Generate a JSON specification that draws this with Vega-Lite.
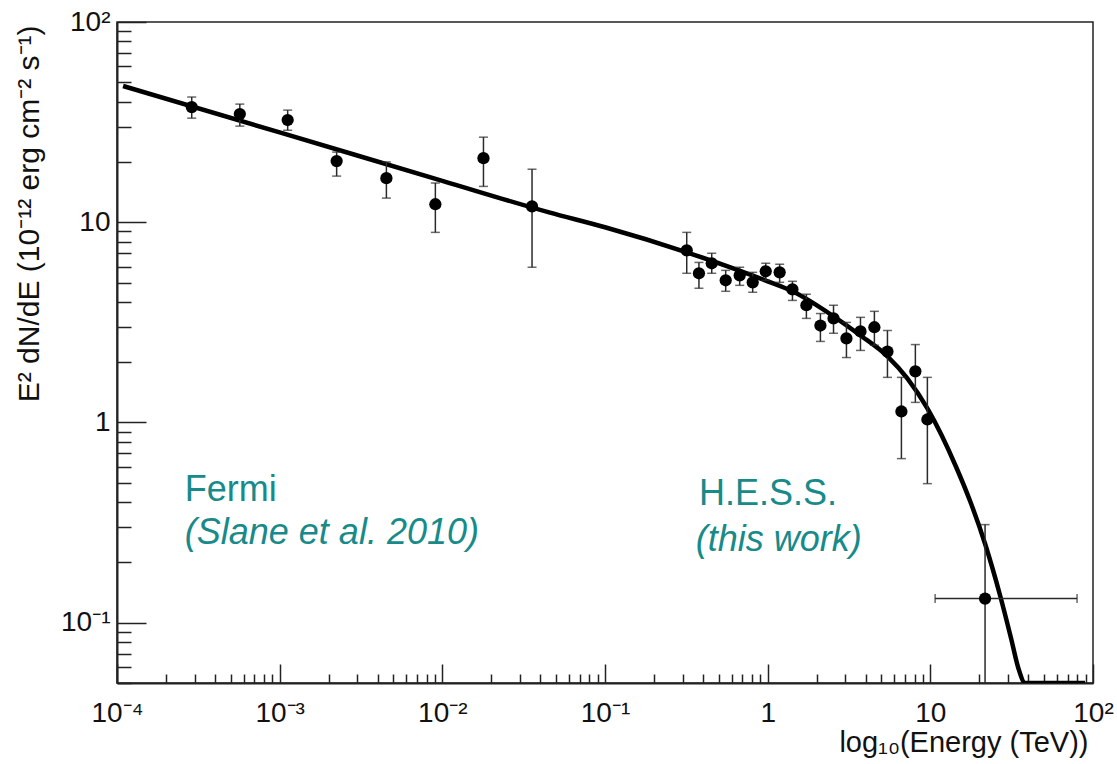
{
  "$schema": "https://vega.github.io/schema/vega-lite/v6.json",
  "width": 976,
  "height": 661,
  "autosize": {"type": "none"},
  "padding": {"left": 117, "top": 22, "right": 24, "bottom": 81},
  "background": "white",
  "config": {
    "view": {"stroke": "#222", "strokeWidth": 1.5},
    "font": "Liberation Sans",
    "axis": {"grid": false, "domainColor": "#222", "domainWidth": 2, "tickColor": "#222", "tickWidth": 1.5, "labelColor": "#111", "titleColor": "#111", "labelFont": "Liberation Sans", "titleFont": "Liberation Sans", "titleFontWeight": "normal", "labelFlush": false, "labelOverlap": false}
  },
  "datasets": {
    "curve": [
      {"E": 0.000109, "F": 47.9},
      {"E": 0.001, "F": 28.1},
      {"E": 0.01, "F": 16.1},
      {"E": 0.0453, "F": 11.2},
      {"E": 0.1, "F": 9.44},
      {"E": 0.318, "F": 7.08},
      {"E": 0.664, "F": 5.75},
      {"E": 1.0, "F": 5.07},
      {"E": 1.42, "F": 4.52},
      {"E": 2.54, "F": 3.39},
      {"E": 3.72, "F": 2.72},
      {"E": 5.45, "F": 2.14},
      {"E": 7.22, "F": 1.66},
      {"E": 9.59, "F": 1.175},
      {"E": 14.45, "F": 0.596},
      {"E": 17.6, "F": 0.403},
      {"E": 21.7, "F": 0.248},
      {"E": 26.9, "F": 0.136},
      {"E": 31.4, "F": 0.0832},
      {"E": 34.7, "F": 0.0596},
      {"E": 38.3, "F": 0.05},
      {"E": 89.3, "F": 0.05}
    ],
    "points": [
      {"E": 0.000288, "F": 37.6, "lo": 33.1, "hi": 42.2},
      {"E": 0.000569, "F": 34.7, "lo": 30.2, "hi": 38.9},
      {"E": 0.00112, "F": 32.4, "lo": 28.8, "hi": 36.3},
      {"E": 0.00224, "F": 20.2, "lo": 17.0, "hi": 22.4},
      {"E": 0.00453, "F": 16.6, "lo": 13.2, "hi": 20.0},
      {"E": 0.00906, "F": 12.3, "lo": 8.9, "hi": 15.7},
      {"E": 0.0179, "F": 20.9, "lo": 15.1, "hi": 26.6},
      {"E": 0.0356, "F": 12.0, "lo": 5.96, "hi": 18.4},
      {"E": 0.318, "F": 7.24, "lo": 5.56, "hi": 8.9},
      {"E": 0.378, "F": 5.56, "lo": 4.68, "hi": 6.3},
      {"E": 0.453, "F": 6.24, "lo": 5.56, "hi": 7.0},
      {"E": 0.552, "F": 5.13, "lo": 4.52, "hi": 5.75},
      {"E": 0.673, "F": 5.43, "lo": 4.84, "hi": 5.96},
      {"E": 0.809, "F": 5.01, "lo": 4.47, "hi": 5.62},
      {"E": 0.973, "F": 5.69, "lo": 5.13, "hi": 6.24},
      {"E": 1.185, "F": 5.62, "lo": 5.01, "hi": 6.17},
      {"E": 1.42, "F": 4.62, "lo": 4.07, "hi": 5.07},
      {"E": 1.73, "F": 3.85, "lo": 3.31, "hi": 4.37},
      {"E": 2.11, "F": 3.05, "lo": 2.54, "hi": 3.5},
      {"E": 2.54, "F": 3.31, "lo": 2.79, "hi": 3.85},
      {"E": 3.05, "F": 2.63, "lo": 2.11, "hi": 3.16},
      {"E": 3.72, "F": 2.85, "lo": 2.29, "hi": 3.35},
      {"E": 4.53, "F": 2.99, "lo": 2.43, "hi": 3.59},
      {"E": 5.45, "F": 2.26, "lo": 1.68, "hi": 2.88},
      {"E": 6.64, "F": 1.135, "lo": 0.66, "hi": 1.68},
      {"E": 8.09, "F": 1.8, "lo": 1.26, "hi": 2.45},
      {"E": 9.59, "F": 1.035, "lo": 0.495, "hi": 1.68},
      {"E": 21.7, "F": 0.132, "lo": 0.01, "hi": 0.309, "Elo": 10.7, "Ehi": 79.8}
    ],
    "labels": [
      {"E": 0.000261, "F": 0.407, "text": "Fermi", "role": "instrument"},
      {"E": 0.000261, "F": 0.248, "text": "(Slane et al. 2010)", "role": "reference"},
      {"E": 0.378, "F": 0.385, "text": "H.E.S.S.", "role": "instrument"},
      {"E": 0.361, "F": 0.229, "text": "(this work)", "role": "reference"}
    ]
  },
  "layer": [
    {
      "data": {"name": "curve"},
      "mark": {"type": "line", "color": "#000", "strokeWidth": 4.5, "clip": true, "interpolate": "monotone"},
      "encoding": {
        "x": {
          "field": "E", "type": "quantitative",
          "scale": {"type": "log", "domain": [0.0001, 100], "nice": false},
          "axis": {
            "values": [0.0001, 0.0002, 0.0003, 0.0004, 0.0005, 0.0006, 0.0007, 0.0008, 0.0009, 0.001, 0.002, 0.003, 0.004, 0.005, 0.006, 0.007, 0.008, 0.009, 0.01, 0.02, 0.03, 0.04, 0.05, 0.06, 0.07, 0.08, 0.09, 0.1, 0.2, 0.3, 0.4, 0.5, 0.6, 0.7, 0.8, 0.9, 1, 2, 3, 4, 5, 6, 7, 8, 9, 10, 20, 30, 40, 50, 60, 70, 80, 90, 100],
            "labelExpr": "datum.value == 0.0001 ? '10⁻⁴' : datum.value == 0.001 ? '10⁻³' : datum.value == 0.01 ? '10⁻²' : datum.value == 0.1 ? '10⁻¹' : datum.value == 1 ? '1' : datum.value == 10 ? '10' : datum.value == 100 ? '10²' : ''",
            "labelFontSize": 28,
            "labelPadding": 35,
            "tickSize": {"condition": {"test": "abs(log(datum.value)/LN10 - round(log(datum.value)/LN10)) < 0.001", "value": -19}, "value": -9},
            "title": "log₁₀(Energy (TeV))",
            "titleFontSize": 29,
            "titleAnchor": "end",
            "titleAlign": "right",
            "titleBaseline": "alphabetic",
            "titleX": 971,
            "titleY": 68
          }
        },
        "y": {
          "field": "F", "type": "quantitative",
          "scale": {"type": "log", "domain": [0.05, 100], "nice": false},
          "axis": {
            "values": [0.05, 0.06, 0.07, 0.08, 0.09, 0.1, 0.2, 0.3, 0.4, 0.5, 0.6, 0.7, 0.8, 0.9, 1, 2, 3, 4, 5, 6, 7, 8, 9, 10, 20, 30, 40, 50, 60, 70, 80, 90, 100],
            "labelExpr": "datum.value == 0.1 ? '10⁻¹' : datum.value == 1 ? '1' : datum.value == 10 ? '10' : datum.value == 100 ? '10²' : ''",
            "labelFontSize": 28,
            "labelPadding": 36,
            "tickSize": {"condition": {"test": "abs(log(datum.value)/LN10 - round(log(datum.value)/LN10)) < 0.001", "value": -29}, "value": -14},
            "title": "E² dN/dE (10⁻¹² erg cm⁻² s⁻¹)",
            "titleFontSize": 30,
            "titleAngle": -90,
            "titleAlign": "right",
            "titleBaseline": "alphabetic",
            "titleX": -79,
            "titleY": 3
          }
        }
      }
    },
    {
      "data": {"name": "points"},
      "mark": {"type": "rule", "color": "#2a2a2a", "strokeWidth": 1.5, "clip": true},
      "encoding": {
        "x": {"field": "E", "type": "quantitative"},
        "y": {"field": "lo", "type": "quantitative"},
        "y2": {"field": "hi"}
      }
    },
    {
      "data": {"name": "points"},
      "transform": [{"fold": ["lo", "hi"], "as": ["end", "val"]}, {"filter": "datum.val > 0.05"}],
      "mark": {"type": "tick", "orient": "horizontal", "color": "#2a2a2a", "size": 9, "thickness": 1.5},
      "encoding": {
        "x": {"field": "E", "type": "quantitative"},
        "y": {"field": "val", "type": "quantitative"}
      }
    },
    {
      "data": {"name": "points"},
      "transform": [{"filter": "datum.Elo != null"}],
      "mark": {"type": "rule", "color": "#2a2a2a", "strokeWidth": 1.5},
      "encoding": {
        "x": {"field": "Elo", "type": "quantitative"},
        "x2": {"field": "Ehi"},
        "y": {"field": "F", "type": "quantitative"}
      }
    },
    {
      "data": {"name": "points"},
      "transform": [{"filter": "datum.Elo != null"}, {"fold": ["Elo", "Ehi"], "as": ["end", "val"]}],
      "mark": {"type": "tick", "orient": "vertical", "color": "#2a2a2a", "size": 9, "thickness": 1.5},
      "encoding": {
        "x": {"field": "val", "type": "quantitative"},
        "y": {"field": "F", "type": "quantitative"}
      }
    },
    {
      "data": {"name": "points"},
      "mark": {"type": "circle", "color": "#000", "opacity": 1, "size": 150},
      "encoding": {
        "x": {"field": "E", "type": "quantitative"},
        "y": {"field": "F", "type": "quantitative"}
      }
    },
    {
      "data": {"name": "labels"},
      "transform": [{"filter": "datum.role == 'instrument'"}],
      "mark": {"type": "text", "align": "left", "baseline": "alphabetic", "fontSize": 36, "color": "#178a8a", "font": "Liberation Sans"},
      "encoding": {
        "x": {"field": "E", "type": "quantitative"},
        "y": {"field": "F", "type": "quantitative"},
        "text": {"field": "text"}
      }
    },
    {
      "data": {"name": "labels"},
      "transform": [{"filter": "datum.role == 'reference'"}],
      "mark": {"type": "text", "align": "left", "baseline": "alphabetic", "fontSize": 36, "fontStyle": "italic", "color": "#178a8a", "font": "Liberation Sans"},
      "encoding": {
        "x": {"field": "E", "type": "quantitative"},
        "y": {"field": "F", "type": "quantitative"},
        "text": {"field": "text"}
      }
    }
  ]
}
